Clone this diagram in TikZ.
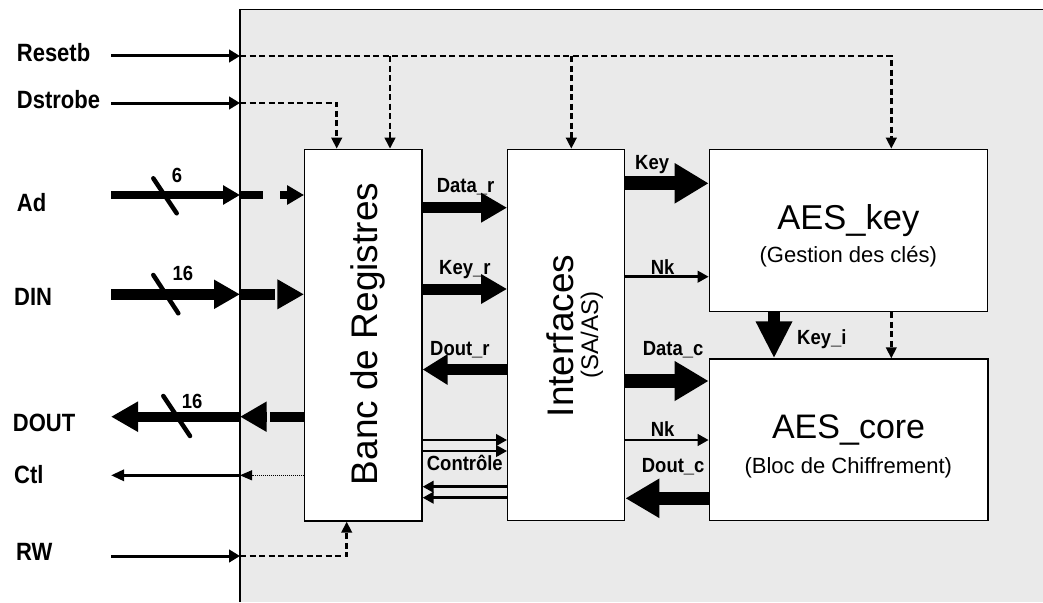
\documentclass[tikz,border=0pt]{standalone}
\usepackage{fontspec}
\setmainfont{Liberation Sans}
\newfontfamily\condA[FakeStretch=0.88]{Liberation Sans}
\newfontfamily\condB[FakeStretch=0.9]{Liberation Sans}
\usetikzlibrary{arrows.meta}
\definecolor{bgc}{HTML}{EAEAEA}
\begin{document}
\begin{tikzpicture}[x=1pt,y=-1pt,
  box/.style={draw=black, line width=1.3pt, fill=white, inner sep=0pt},
  sig/.style={font=\condA\bfseries\fontsize{25}{28}\selectfont, inner sep=0pt, anchor=base west},
  lbl/.style={font=\condB\bfseries\fontsize{20.5}{23}\selectfont, inner sep=0pt, anchor=base west},
  thinarr/.style={line width=3pt, -{Triangle[length=11pt,width=12.5pt]}},
  tnarr/.style={line width=2.5pt, -{Triangle[length=11pt,width=11.5pt]}},
  dsh/.style={line width=2.5pt, dash pattern=on 6pt off 3.5pt, -{Triangle[length=11pt,width=10.5pt]}},
  busA/.style={line width=11pt, -{Triangle[length=26pt,width=28pt]}},
  busB/.style={line width=13.5pt, -{Triangle[length=34pt,width=37.5pt]}},
  slash/.style={line width=4.5pt, line cap=round},
  bigtxt/.style={inner sep=0pt, anchor=base}
]
\useasboundingbox (0,0) rectangle (1043,602);
% background
\fill[bgc] (240,9.5) rectangle (1043,602);
\draw[line width=1.3pt] (240,602) -- (240,9.5) -- (1043,9.5);

% boxes
\node[box, minimum width=117.3pt, minimum height=371.7pt] (banc) at (363.35,335.15) {};
\node[box, minimum width=117pt, minimum height=371.4pt] (intf) at (566.2,335) {};
\node[box, minimum width=278pt, minimum height=162.4pt] (key) at (848.3,230.5) {};
\node[box, minimum width=278.7pt, minimum height=161.7pt] (core) at (848.65,439.85) {};

% box texts
\node[rotate=90, bigtxt, font=\fontsize{37}{40}\selectfont] (tBanc) at (377,334) {Banc de Registres};
\node[rotate=90, bigtxt, font=\fontsize{37}{40}\selectfont] (tIntf) at (573,336) {Interfaces};
\node[rotate=90, bigtxt, font=\fontsize{24}{28}\selectfont] (tSa) at (598,335) {(SA/AS)};
\node[bigtxt, font=\fontsize{34.5}{38}\selectfont] (tKey) at (848.3,229.3) {AES\_key};
\node[bigtxt, font=\fontsize{22}{26}\selectfont] (tKeyS) at (848.3,262) {(Gestion des clés)};
\node[bigtxt, font=\fontsize{34}{38}\selectfont] (tCore) at (848.6,438.3) {AES\_core};
\node[bigtxt, font=\fontsize{22}{26}\selectfont] (tCoreS) at (848.3,473.3) {(Bloc de Chiffrement)};

% left labels
\node[sig] (lReset) at (16.7,61.7) {Resetb};
\node[sig] (lDstr) at (16.7,108.3) {Dstrobe};
\node[sig] (lAd) at (16.7,211.7) {Ad};
\node[sig] (lDin) at (14,305) {DIN};
\node[sig] (lDout) at (12.7,431.7) {DOUT};
\node[sig] (lCtl) at (14,483.3) {Ctl};
\node[sig] (lRw) at (16,560) {RW};

% coordinates
\coordinate (rs0) at (111,56);  \coordinate (rs1) at (240,56);
\coordinate (rb) at (390,56);   \coordinate (ri) at (571.3,56); \coordinate (rj) at (891.3,56);
\coordinate (ds0) at (111,103); \coordinate (ds1) at (240,103); \coordinate (dsj) at (336.7,103);
\coordinate (rw0) at (111,556); \coordinate (rw1) at (240,556); \coordinate (rwj) at (346.7,556);
\coordinate (ad0) at (111,195); \coordinate (ad1) at (240,195); \coordinate (ad2) at (263.3,195); \coordinate (ad3) at (280,195);
\coordinate (di0) at (111,294.3); \coordinate (di1) at (240,294.3); \coordinate (di2) at (275,294.3); \coordinate (di3) at (278.3,294.3);
\coordinate (do0) at (111,416.7); \coordinate (do1) at (240,416.7); \coordinate (do2) at (266.7,416.7); \coordinate (do3) at (270,416.7);
\coordinate (ct0) at (111,475.3); \coordinate (ct1) at (240,475.3);

% control signals
\draw[thinarr] (rs0) -- (rs1);
\draw[dsh] (rs1) -- (rj) -- (rj |- key.north);
\draw[dsh] (rb) -- (rb |- banc.north);
\draw[dsh] (ri) -- (ri |- intf.north);
\draw[dsh] (rj |- key.south) -- (rj |- core.north);
\draw[thinarr] (ds0) -- (ds1);
\draw[dsh] (ds1) -- (dsj) -- (dsj |- banc.north);
\draw[thinarr] (rw0) -- (rw1);
\draw[dsh] (rw1) -- (rwj) -- (rwj |- banc.south);

% Ad
\draw[line width=8pt, -{Triangle[length=17pt,width=18.5pt]}] (ad0) -- (ad1);
\draw[line width=8pt] (ad1) -- (ad2);
\draw[line width=8pt, -{Triangle[length=17pt,width=18.5pt]}] (ad3) -- (ad3 -| banc.west);
\draw[slash] (153.3,178.3) -- (176.7,213.3);
\node[lbl] (n6) at (171.7,182.7) {6};

% DIN
\draw[line width=11pt, -{Triangle[length=26pt,width=27.5pt]}] (di0) -- (di1);
\draw[line width=11pt] (di1) -- (di2);
\draw[line width=11pt, -{Triangle[length=26.7pt,width=28pt]}] (di3) -- (di3 -| banc.west);
\draw[slash] (153.3,275) -- (178.3,313.3);
\node[lbl] (n16a) at (172.3,280.7) {16};

% DOUT
\draw[line width=10pt, -{Triangle[length=27pt,width=28.5pt]}] (do1) -- (do0);
\draw[line width=10pt, -{Triangle[length=26.7pt,width=28.5pt]}] (do2) -- (do1);
\draw[line width=10pt] (do3 -| banc.west) -- (do3);
\draw[slash] (163.3,396) -- (190,436);
\node[lbl] (n16b) at (181.7,408.3) {16};

% Ctl
\draw[line width=3pt, -{Triangle[length=13pt,width=11pt]}] (ct1) -- (ct0);
\draw[line width=1pt, dash pattern=on 1pt off 1pt, -{Triangle[length=12pt,width=10pt]}] (ct1 -| banc.west) -- (ct1);

% banc <-> interfaces
\draw[busA] (banc.east |- 0,207.7) -- (intf.west |- 0,207.7);
\node[lbl] (lDatar) at (436.7,192.7) {Data\_r};
\draw[busA] (banc.east |- 0,289) -- (intf.west |- 0,289);
\node[lbl] (lKeyr) at (439,274) {Key\_r};
\draw[line width=11pt, -{Triangle[length=25pt,width=29pt]}] (intf.west |- 0,369.5) -- (banc.east |- 0,369.5);
\node[lbl] (lDoutr) at (430,355.7) {Dout\_r};
\draw[tnarr] (banc.east |- 0,440) -- (intf.west |- 0,440);
\draw[tnarr] (banc.east |- 0,451) -- (intf.west |- 0,451);
\draw[tnarr] (intf.west |- 0,486.7) -- (banc.east |- 0,486.7);
\draw[tnarr] (intf.west |- 0,497.7) -- (banc.east |- 0,497.7);
\node[lbl] (lCtrl) at (426.7,470.7) {Contrôle};

% interfaces <-> AES
\draw[line width=14pt, -{Triangle[length=34pt,width=38pt]}] (intf.east |- 0,183.3) -- (key.west |- 0,183.3);
\node[lbl] (lKey) at (635,169.3) {Key};
\draw[tnarr] (intf.east |- 0,276.7) -- (key.west |- 0,276.7);
\node[lbl] (lNk1) at (650.7,274) {Nk};
\draw[busB] (intf.east |- 0,381) -- (core.west |- 0,381);
\node[lbl] (lDatac) at (642.7,355) {Data\_c};
\draw[tnarr] (intf.east |- 0,440) -- (core.west |- 0,440);
\node[lbl] (lNk2) at (650.7,436) {Nk};
\draw[line width=12.5pt, -{Triangle[length=34pt,width=37pt]}] (core.west |- 0,498.3) -- (intf.east |- 0,498.3);
\node[lbl] (lDoutc) at (641.7,472.7) {Dout\_c};

% key -> core
\draw[line width=12.5pt, -{Triangle[length=37pt,width=34pt]}] (key.south -| 774,0) -- (core.north -| 774,0);
\node[lbl] (lKeyi) at (797,344) {Key\_i};
\end{tikzpicture}
\end{document}
